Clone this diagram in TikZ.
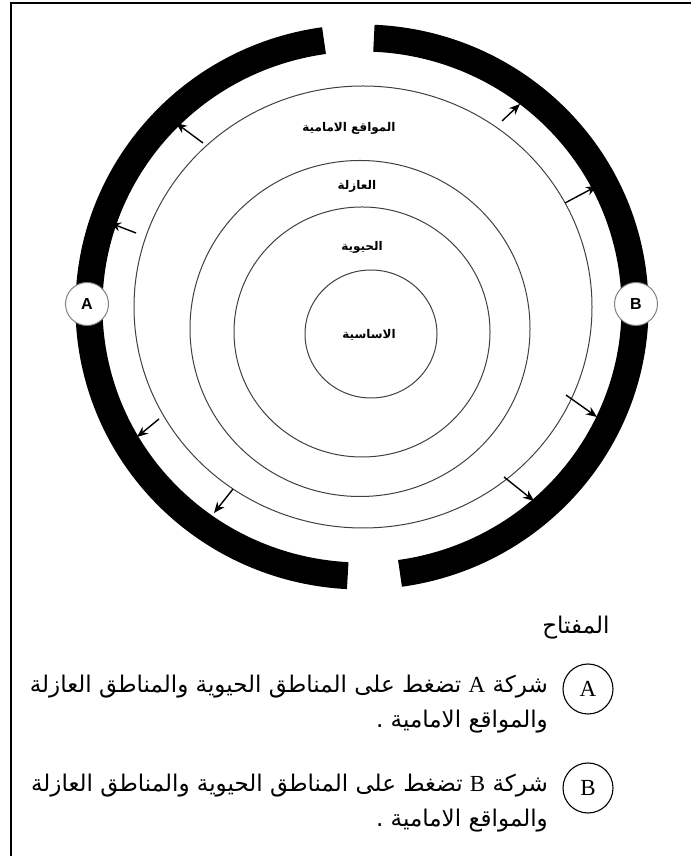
\documentclass[tikz,border=0pt]{standalone}
\usepackage{fontspec}
\usetikzlibrary{arrows.meta}
\newfontfamily\arabicfont[Script=Arabic]{DejaVu Sans}
\newfontfamily\latinfont{Liberation Serif}
\newfontfamily\labelfont{Liberation Sans}
\TeXXeTstate=1

\begin{document}
\begin{tikzpicture}[x=1pt,y=1pt,>={Stealth[length=11pt,width=9pt]},
  ring/.style={line width=1pt,draw=black!75},
  zone/.style={font=\arabicfont\bfseries\fontsize{12}{14}\selectfont,inner sep=1pt},
  push/.style={->,line width=1.4pt},
  firm/.style={circle,draw=black!50,line width=1pt,fill=white,minimum size=43pt,inner sep=0pt,font=\labelfont\bfseries\fontsize{16}{16}\selectfont},
  keyfirm/.style={circle,draw,line width=1.1pt,minimum size=50pt,inner sep=0pt,font=\latinfont\fontsize{23}{23}\selectfont},
  keytext/.style={font=\arabicfont\fontsize{23}{35}\selectfont,align=right,inner sep=0pt}]
  \useasboundingbox (0,0) rectangle (691,856);
  \draw[line width=1.2pt] (11,0) -- (11,853) -- (691,853);
  \coordinate (O) at (362,549);
  % black ring, open at top and bottom
  \draw[line width=27pt] (O) ++(98:273 and 269) arc[start angle=98,end angle=267,x radius=273,y radius=269];
  \draw[line width=27pt] (O) ++(278:273 and 269) arc[start angle=278,end angle=447.5,x radius=273,y radius=269];
  % zones
  \draw[ring] (363,549) ellipse[x radius=229,y radius=221];
  \draw[ring] (360,527.5) ellipse[x radius=170,y radius=168];
  \draw[ring] (362,524) ellipse[x radius=128,y radius=125];
  \draw[ring] (371,522) ellipse[x radius=66,y radius=64];
  \node[zone] (front) at (349,728) {\beginR المواقع الامامية\endR};
  \node[zone] (buffer) at (357,670) {\beginR العازلة\endR};
  \node[zone] (vital) at (362,609) {\beginR الحيوية\endR};
  \node[zone] (core) at (369,521) {\beginR الاساسية\endR};
  % pressure arrows
  \draw[push] (203,713) -- (176,733);
  \draw[push] (136,623) -- (110,633);
  \draw[push] (159,437) -- (137,419);
  \draw[push] (233,367) -- (214,343);
  \draw[push] (502,735) -- (520,752);
  \draw[push] (565,653) -- (597,670);
  \draw[push] (566,461) -- (597,439);
  \draw[push] (504,379) -- (534,355);
  \node[firm] (A) at (87,552) {A};
  \node[firm] (B) at (636,552) {B};
  % key
  \node[font=\arabicfont\fontsize{23}{23}\selectfont,anchor=east] (key) at (613,228) {\beginR المفتاح\endR};
  \node[keyfirm] (kA) at (588,167) {A};
  \node[keyfirm] (kB) at (588,68) {B};
  \node[keytext,anchor=north east] (tA) at (548,181) {\beginR شركة {\latinfont A} تضغط على المناطق الحيوية والمناطق العازلة\endR\\\beginR والمواقع الامامية .\endR};
  \node[keytext,anchor=north east] (tB) at (548,82) {\beginR شركة {\latinfont B} تضغط على المناطق الحيوية والمناطق العازلة\endR\\\beginR والمواقع الامامية .\endR};
\end{tikzpicture}
\end{document}
